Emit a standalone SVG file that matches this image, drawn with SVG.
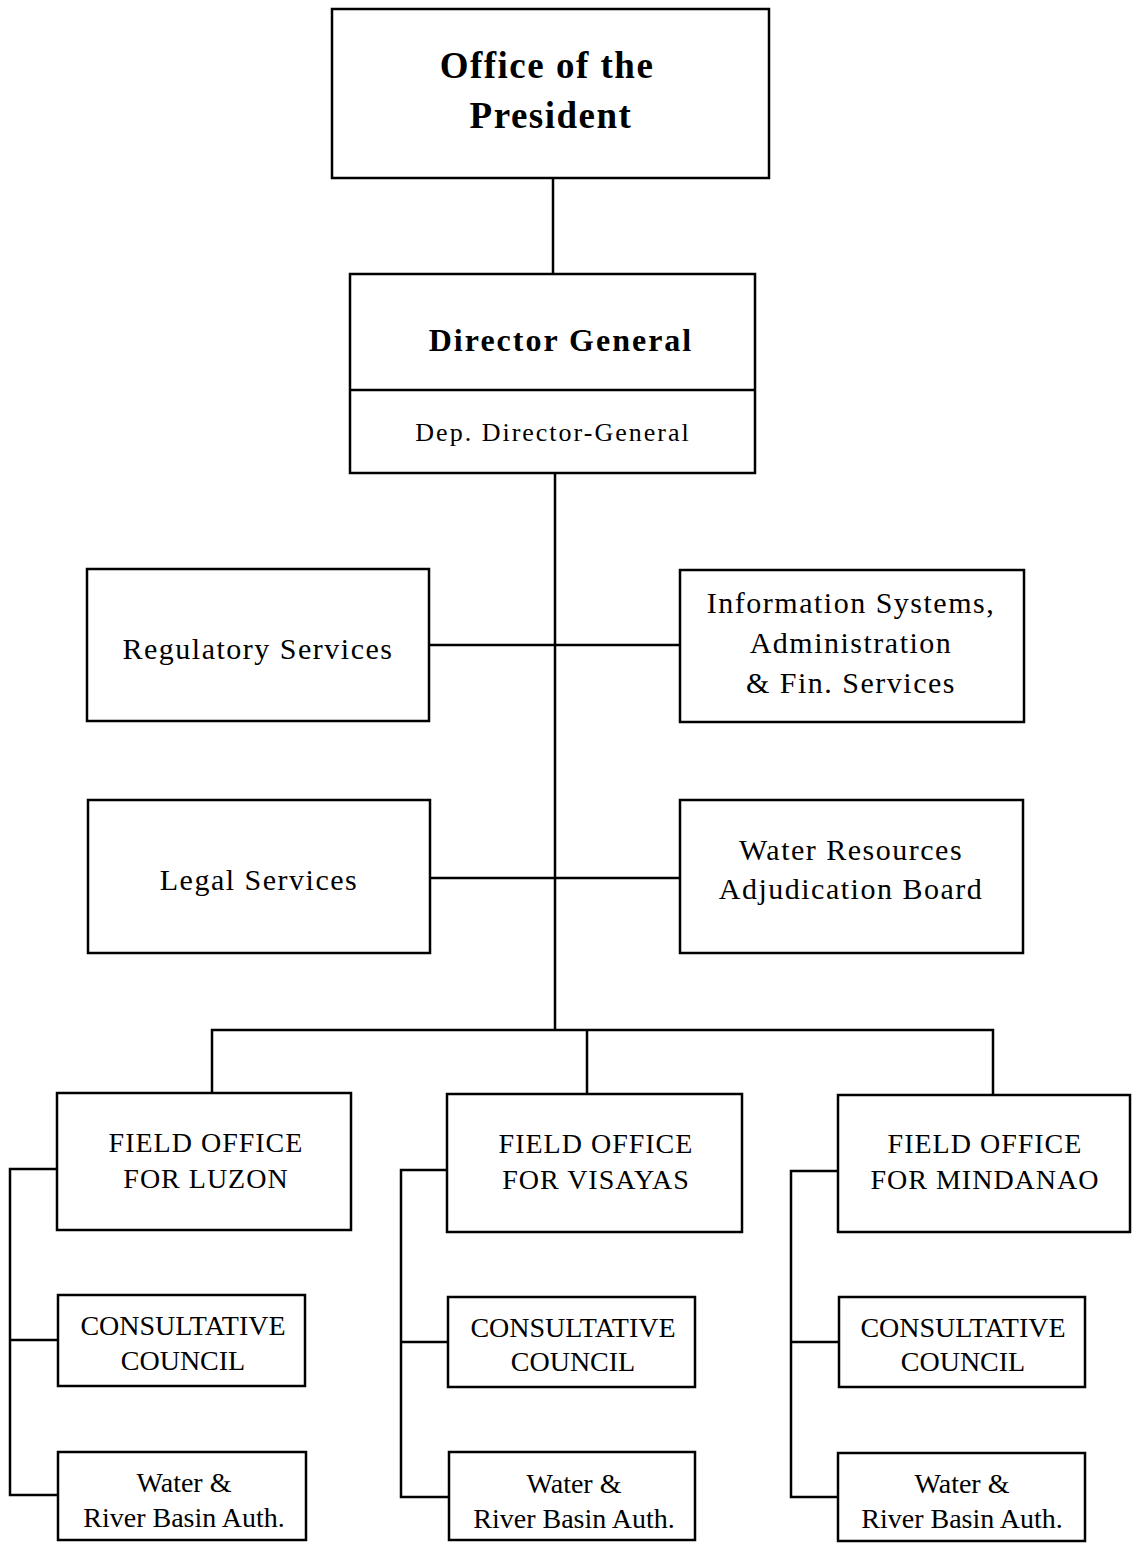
<svg xmlns="http://www.w3.org/2000/svg" width="1132" height="1543" viewBox="0 0 1132 1543">
<style>
.box{fill:#fff;stroke:#000;stroke-width:2.5}
.ln{fill:none;stroke:#000;stroke-width:2.5}
text{font-family:"Liberation Serif","Times New Roman",serif;fill:#000;text-anchor:middle}
.big{font-size:37px;font-weight:bold;letter-spacing:1.5px}
.dg{font-size:32px;font-weight:bold;letter-spacing:2px}
.dep{font-size:26px;letter-spacing:2px}
.mid{font-size:30px;letter-spacing:1.5px}
.fo{font-size:28px;letter-spacing:1px}
.sm{font-size:28px}
</style>
<rect width="1132" height="1543" fill="#fff"/>
<g id="connectors">
<path class="ln" d="M553 178V274"/>
<path class="ln" d="M555 473V1030"/>
<path class="ln" d="M429 645H680"/>
<path class="ln" d="M430 878H680"/>
<path class="ln" d="M212 1093V1030H993V1095M587 1030V1094"/>
<path class="ln" d="M57 1169H10V1495H58M10 1340H58"/>
<path class="ln" d="M447 1170H401V1497H449M401 1342H448"/>
<path class="ln" d="M838 1171H791V1497H838M791 1342H839"/>
</g>
<g id="president">
<rect class="box" x="332" y="9" width="437" height="169"/>
<text class="big" x="547" y="78">Office of the</text>
<text class="big" x="551" y="128">President</text>
</g>
<g id="director">
<rect class="box" x="350" y="274" width="405" height="199"/>
<path class="ln" d="M350 390H755"/>
<text class="dg" x="561" y="351">Director General</text>
<text class="dep" x="553" y="441">Dep. Director-General</text>
</g>
<g id="regulatory">
<rect class="box" x="87" y="569" width="342" height="152"/>
<text class="mid" x="258" y="659">Regulatory Services</text>
</g>
<g id="infosys">
<rect class="box" x="680" y="570" width="344" height="152"/>
<text class="mid" x="851" y="613">Information Systems,</text>
<text class="mid" x="851" y="653">Administration</text>
<text class="mid" x="851" y="693">&amp; Fin. Services</text>
</g>
<g id="legal">
<rect class="box" x="88" y="800" width="342" height="153"/>
<text class="mid" x="259" y="890">Legal Services</text>
</g>
<g id="wrab">
<rect class="box" x="680" y="800" width="343" height="153"/>
<text class="mid" x="851" y="860">Water Resources</text>
<text class="mid" x="851" y="899">Adjudication Board</text>
</g>
<g id="fo-luzon">
<rect class="box" x="57" y="1093" width="294" height="137"/>
<text class="fo" x="206" y="1152">FIELD OFFICE</text>
<text class="fo" x="206" y="1188">FOR LUZON</text>
</g>
<g id="cc-luzon">
<rect class="box" x="58" y="1295" width="247" height="91"/>
<text class="sm" x="183" y="1335">CONSULTATIVE</text>
<text class="sm" x="183" y="1370">COUNCIL</text>
</g>
<g id="wrba-luzon">
<rect class="box" x="58" y="1452" width="248" height="88"/>
<text class="sm" x="184" y="1492">Water &amp;</text>
<text class="sm" x="184" y="1527">River Basin Auth.</text>
</g>
<g id="fo-visayas">
<rect class="box" x="447" y="1094" width="295" height="138"/>
<text class="fo" x="596" y="1153">FIELD OFFICE</text>
<text class="fo" x="596" y="1189">FOR VISAYAS</text>
</g>
<g id="cc-visayas">
<rect class="box" x="448" y="1297" width="247" height="90"/>
<text class="sm" x="573" y="1337">CONSULTATIVE</text>
<text class="sm" x="573" y="1371">COUNCIL</text>
</g>
<g id="wrba-visayas">
<rect class="box" x="449" y="1452" width="246" height="88"/>
<text class="sm" x="574" y="1493">Water &amp;</text>
<text class="sm" x="574" y="1528">River Basin Auth.</text>
</g>
<g id="fo-mindanao">
<rect class="box" x="838" y="1095" width="292" height="137"/>
<text class="fo" x="985" y="1153">FIELD OFFICE</text>
<text class="fo" x="985" y="1189">FOR MINDANAO</text>
</g>
<g id="cc-mindanao">
<rect class="box" x="839" y="1297" width="246" height="90"/>
<text class="sm" x="963" y="1337">CONSULTATIVE</text>
<text class="sm" x="963" y="1371">COUNCIL</text>
</g>
<g id="wrba-mindanao">
<rect class="box" x="838" y="1453" width="247" height="88"/>
<text class="sm" x="962" y="1493">Water &amp;</text>
<text class="sm" x="962" y="1528">River Basin Auth.</text>
</g>
</svg>
